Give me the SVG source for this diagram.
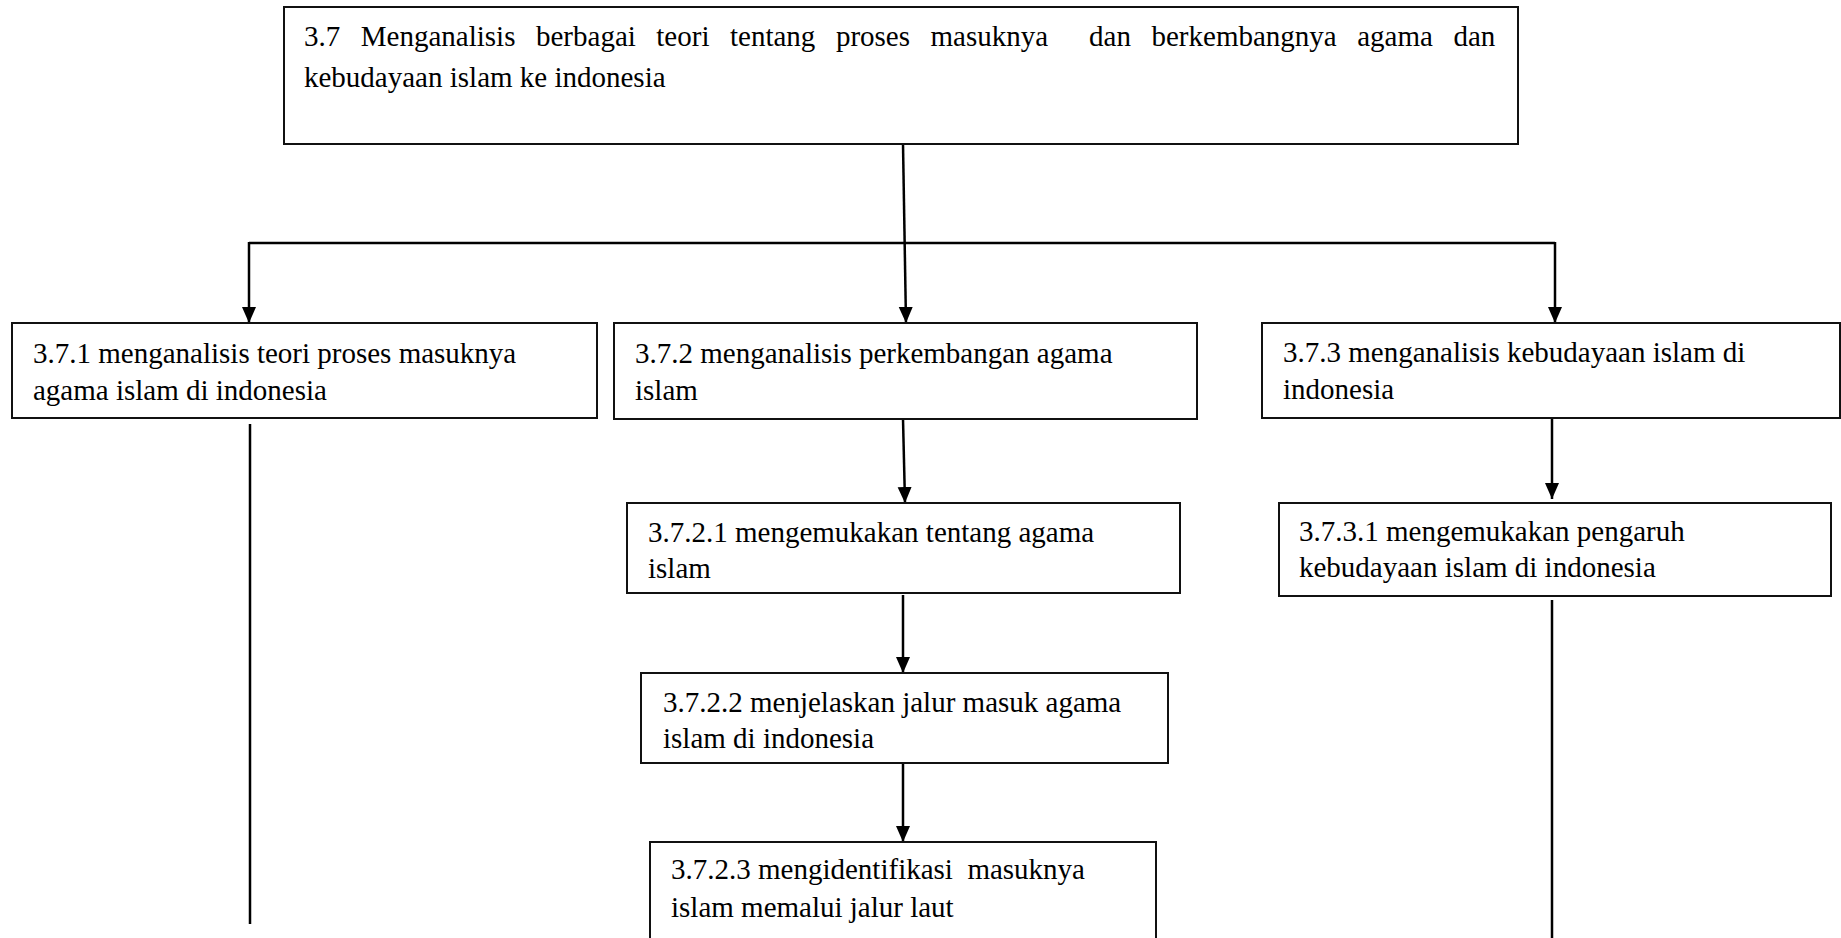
<svg xmlns="http://www.w3.org/2000/svg" width="1841" height="938" viewBox="0 0 1841 938">
<defs>
<marker id="arr" markerUnits="userSpaceOnUse" markerWidth="16" markerHeight="16" viewBox="0 0 16 16" refX="16" refY="8" orient="auto">
<path d="M0,1 L16,8 L0,15 z" fill="#000"/>
</marker>
<style>
.box{fill:#fff;stroke:#111;stroke-width:2}
.t{font-family:"Liberation Serif","Times New Roman",serif;font-size:29px;fill:#000}
.c{stroke:#000;stroke-width:2.5;fill:none}
.a{stroke:#000;stroke-width:2.5;fill:none;marker-end:url(#arr)}
</style>
</defs>
<rect width="1841" height="938" fill="#fff"/>
<g id="connectors">
<line class="a" x1="903" y1="144" x2="906" y2="323"/>
<line class="c" x1="249" y1="243" x2="1555" y2="243"/>
<line class="a" x1="249" y1="242" x2="249" y2="323"/>
<line class="a" x1="1555" y1="242" x2="1555" y2="323"/>
<line class="a" x1="903" y1="419" x2="905" y2="503"/>
<line class="a" x1="903" y1="595" x2="903" y2="673"/>
<line class="a" x1="903" y1="761" x2="903" y2="842"/>
<line class="a" x1="1552" y1="418" x2="1552" y2="499"/>
<line class="c" x1="1552" y1="600" x2="1552" y2="938"/>
<line class="c" x1="250" y1="424" x2="250" y2="924"/>
</g>
<g id="n37">
<rect class="box" x="284" y="7" width="1234" height="137"/>
<text class="t" y="46"><tspan x="304">3.7</tspan><tspan x="360.8">Menganalisis</tspan><tspan x="536">berbagai</tspan><tspan x="656.3">teori</tspan><tspan x="730">tentang</tspan><tspan x="835.9">proses</tspan><tspan x="930.5">masuknya</tspan><tspan x="1089.1">dan</tspan><tspan x="1151.5">berkembangnya</tspan><tspan x="1357.2">agama</tspan><tspan x="1453.4">dan</tspan></text>
<text class="t" x="304" y="87">kebudayaan islam ke indonesia</text>
</g>
<g id="n371">
<rect class="box" x="12" y="323" width="585" height="95"/>
<text class="t" x="33" y="363">3.7.1 menganalisis teori proses masuknya</text>
<text class="t" x="33" y="400">agama islam di indonesia</text>
</g>
<g id="n372">
<rect class="box" x="614" y="323" width="583" height="96"/>
<text class="t" x="635" y="363">3.7.2 menganalisis perkembangan agama</text>
<text class="t" x="635" y="400">islam</text>
</g>
<g id="n373">
<rect class="box" x="1262" y="323" width="578" height="95"/>
<text class="t" x="1283" y="362">3.7.3 menganalisis kebudayaan islam di</text>
<text class="t" x="1283" y="399">indonesia</text>
</g>
<g id="n3721">
<rect class="box" x="627" y="503" width="553" height="90"/>
<text class="t" x="648" y="542">3.7.2.1 mengemukakan tentang agama</text>
<text class="t" x="648" y="578">islam</text>
</g>
<g id="n3722">
<rect class="box" x="641" y="673" width="527" height="90"/>
<text class="t" x="663" y="712">3.7.2.2 menjelaskan jalur masuk agama</text>
<text class="t" x="663" y="748">islam di indonesia</text>
</g>
<g id="n3723">
<rect class="box" x="650" y="842" width="506" height="110"/>
<text class="t" x="671" y="879" xml:space="preserve">3.7.2.3 mengidentifikasi  masuknya</text>
<text class="t" x="671" y="917">islam memalui jalur laut</text>
</g>
<g id="n3731">
<rect class="box" x="1279" y="503" width="552" height="93"/>
<text class="t" x="1299" y="541">3.7.3.1 mengemukakan pengaruh</text>
<text class="t" x="1299" y="577">kebudayaan islam di indonesia</text>
</g>
</svg>
